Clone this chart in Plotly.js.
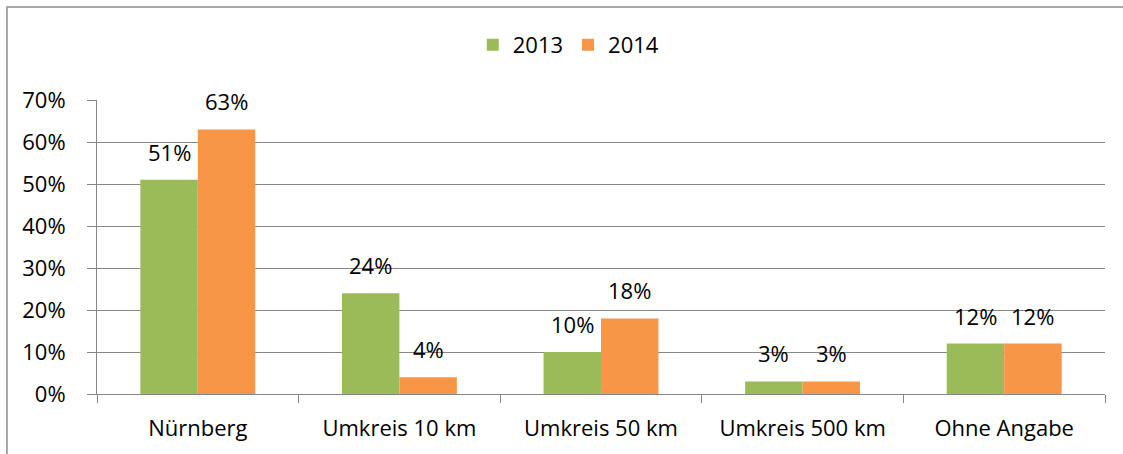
<!DOCTYPE html>
<html>
<head>
<meta charset="utf-8">
<script src="https://cdn.plot.ly/plotly-3.0.1.min.js"></script>
<style>html,body{margin:0;padding:0;background:#fff;}#chart{width:1123px;height:454px;}</style>
</head>
<body>
<div id="chart"></div>
<script>
const categories = ["Nürnberg", "Umkreis 10 km", "Umkreis 50 km", "Umkreis 500 km", "Ohne Angabe"];
const values2013 = [0.51, 0.24, 0.10, 0.03, 0.12];
const values2014 = [0.63, 0.04, 0.18, 0.03, 0.12];
const seriesNames = ["2013", "2014"];
const yTickVals = [0, 0.1, 0.2, 0.3, 0.4, 0.5, 0.6, 0.7];

const font = "'Open Sans', sans-serif";
const fs = 22;
const fmt = v => Math.round(v * 100) + "%";
const bargap = 0.43;
const half = (1 - bargap) / 4;

const mk = (name, vals, color) => ({
  type: "bar", name: name, x: categories, y: vals,
  marker: {color: color, line: {width: 0}},
  hoverinfo: "skip"
});

const data = [
  mk(seriesNames[0], values2013, "#9BBB59"),
  mk(seriesNames[1], values2014, "#F79646")
];

const annotations = [];
[values2013, values2014].forEach((vals, s) => {
  vals.forEach((v, i) => {
    annotations.push({
      x: i + (s === 0 ? -half : half), y: v, xref: "x", yref: "y",
      text: fmt(v), showarrow: false, yanchor: "bottom", yshift: 11,
      font: {family: font, size: fs, color: "#000"}
    });
  });
});

const layout = {
  width: 1123, height: 454,
  margin: {l: 97, r: 18, t: 100, b: 60},
  paper_bgcolor: "#fff", plot_bgcolor: "#fff",
  barmode: "group", bargap: bargap, bargroupgap: 0,
  font: {family: font, size: fs, color: "#000"},
  showlegend: true,
  legend: {orientation: "h", x: 0.468, xanchor: "center", y: 1.187, yanchor: "middle",
           font: {family: font, size: fs, color: "#000"}, itemwidth: 30, traceorder: "normal"},
  xaxis: {
    type: "category", showline: true, linecolor: "#868686", linewidth: 1,
    ticks: "outside", tickson: "boundaries", ticklen: 8, tickcolor: "#868686",
    showgrid: false, tickfont: {family: font, size: fs}, ticklabelstandoff: 15
  },
  yaxis: {
    range: [0, 0.7], tickvals: yTickVals, ticktext: yTickVals.map(fmt),
    showline: true, linecolor: "#868686", linewidth: 1,
    ticks: "outside", ticklen: 9, tickcolor: "#868686",
    showgrid: true, gridcolor: "#868686", gridwidth: 1, zeroline: false,
    tickfont: {family: font, size: fs}, ticklabelstandoff: 17
  },
  annotations: annotations,
  shapes: [{
    type: "rect", xref: "paper", yref: "paper",
    x0: -0.0893, x1: 1.3, y0: -0.5, y1: 1.316,
    line: {color: "#8c8c8c", width: 1.5}, fillcolor: "rgba(0,0,0,0)", layer: "below"
  }]
};

Plotly.newPlot("chart", data, layout, {displayModeBar: false, staticPlot: true});
</script>
</body>
</html>
